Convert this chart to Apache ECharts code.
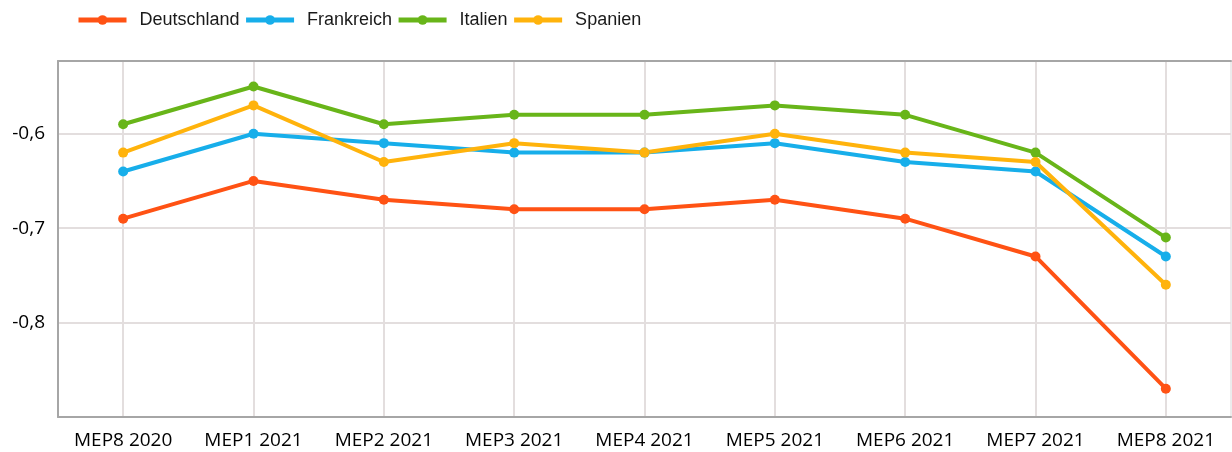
<!DOCTYPE html>
<html>
<head>
<meta charset="utf-8">
<script src="https://cdn.jsdelivr.net/npm/echarts@6/dist/echarts.min.js"></script>
<style>
  html, body { margin: 0; padding: 0; background: #fff; }
  #chart { width: 1232px; height: 452px; }
</style>
</head>
<body>
<div id="chart"></div>
<script>
var categories = ['MEP8 2020', 'MEP1 2021', 'MEP2 2021', 'MEP3 2021', 'MEP4 2021',
                  'MEP5 2021', 'MEP6 2021', 'MEP7 2021', 'MEP8 2021'];

var deutschland = [-0.69, -0.65, -0.67, -0.68, -0.68, -0.67, -0.69, -0.73, -0.87];
var frankreich  = [-0.64, -0.60, -0.61, -0.62, -0.62, -0.61, -0.63, -0.64, -0.73];
var italien     = [-0.59, -0.55, -0.59, -0.58, -0.58, -0.57, -0.58, -0.62, -0.71];
var spanien     = [-0.62, -0.57, -0.63, -0.61, -0.62, -0.60, -0.62, -0.63, -0.76];

var yTickLabels = [-0.6, -0.7, -0.8];

var colors = ['#FF5214', '#17AEEA', '#68B519', '#FFB30C'];

function makeSeries(name, data, color) {
    return {
        name: name,
        type: 'line',
        data: data,
        symbol: 'circle',
        symbolSize: 10,
        lineStyle: { width: 4, color: color },
        itemStyle: { color: color },
        emphasis: { disabled: true }
    };
}

var chart = echarts.init(document.getElementById('chart'), null, { renderer: 'canvas' });

var option = {
    animation: false,
    color: colors,
    legend: {
        left: 71,
        top: 6,
        itemWidth: 48,
        itemHeight: 12,
        itemGap: 4,
        lineStyle: { width: 5 },
        textStyle: {
            fontFamily: 'Liberation Sans',
            fontSize: 18,
            color: '#1a1a1a',
            padding: [0, 0, 0, 8]
        },
        data: ['Deutschland', 'Frankreich', 'Italien', 'Spanien']
    },
    grid: {
        left: 58,
        right: 1,
        top: 61,
        bottom: 35,
        show: true,
        borderColor: '#d9d9d9',
        borderWidth: 1
    },
    xAxis: [{
        type: 'category',
        data: categories,
        boundaryGap: true,
        axisLine: { show: true, lineStyle: { color: '#a6a6a6', width: 2 } },
        axisTick: { show: false },
        axisLabel: {
            fontFamily: 'Open Sans',
            fontSize: 19,
            color: '#000',
            margin: 14
        },
        splitLine: {
            show: true,
            alignWithLabel: true,
            lineStyle: { color: '#e3dede', width: 2 }
        }
    }, {
        type: 'category',
        position: 'top',
        data: categories,
        axisLine: { show: true, lineStyle: { color: '#a6a6a6', width: 2 } },
        axisTick: { show: false },
        axisLabel: { show: false },
        splitLine: { show: false }
    }],
    yAxis: {
        type: 'value',
        min: -0.9,
        max: -0.523,
        interval: 0.1,
        axisLine: { show: true, lineStyle: { color: '#a6a6a6', width: 2 } },
        axisTick: { show: false },
        axisLabel: {
            fontFamily: 'Open Sans',
            fontSize: 19,
            color: '#000',
            margin: 13,
            formatter: function (v) {
                var r = Math.round(v * 10) / 10;
                if (Math.abs(v - r) > 1e-6 || yTickLabels.indexOf(r) < 0) return '';
                return r.toFixed(1).replace('.', ',');
            }
        },
        splitLine: { show: true, lineStyle: { color: '#e3dede', width: 2 } }
    },
    series: [
        makeSeries('Deutschland', deutschland, colors[0]),
        makeSeries('Frankreich', frankreich, colors[1]),
        makeSeries('Italien', italien, colors[2]),
        makeSeries('Spanien', spanien, colors[3])
    ]
};

chart.setOption(option);
</script>
</body>
</html>
